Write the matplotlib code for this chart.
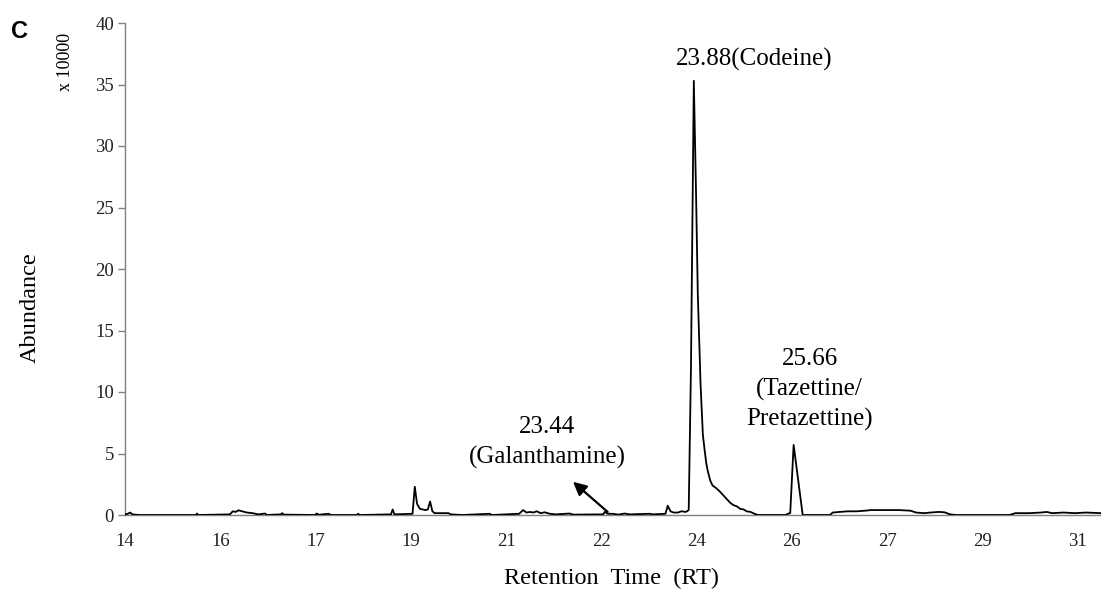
import matplotlib
matplotlib.use("Agg")
import matplotlib.pyplot as plt
import numpy as np

# ---- data (retention time in min, abundance in units of 10000) ----
rt = [13.85, 13.90, 13.94, 13.98, 14.10, 15.10, 15.12, 15.14, 15.70, 15.75, 15.80, 15.85,
      15.92, 16.00, 16.10, 16.20, 16.32, 16.35, 16.60, 16.62, 16.65, 17.20, 17.23, 17.27,
      17.44, 17.48, 17.94, 17.96, 17.99, 18.54, 18.57, 18.60, 18.92, 18.96, 19.00, 19.05,
      19.15, 19.19, 19.23, 19.27, 19.31, 19.55, 19.60, 19.80, 20.28, 20.32, 20.80, 20.87,
      20.93, 20.99, 21.05, 21.11, 21.18, 21.25, 21.34, 21.45, 21.69, 21.75, 22.28, 22.31,
      22.36, 22.45, 22.55, 22.66, 22.75, 23.10, 23.15, 23.38, 23.42, 23.47, 23.52, 23.60,
      23.66, 23.74, 23.79, 23.83, 23.88, 23.92, 23.95, 24.00, 24.04, 24.07, 24.10, 24.13,
      24.17, 24.21, 24.27, 24.34, 24.40, 24.46, 24.52, 24.58, 24.64, 24.70, 24.76, 24.81,
      24.88, 24.95, 25.01, 25.50, 25.55, 25.58, 25.64, 25.80, 26.28, 26.33, 26.45, 26.60,
      26.75, 26.90, 27.00, 27.20, 27.50, 27.70, 27.80, 27.95, 28.05, 28.20, 28.30, 28.40,
      28.50, 29.45, 29.55, 29.80, 30.00, 30.10, 30.20, 30.40, 30.60, 30.80, 31.06]
abundance = [0.05, 0.10, 0.20, 0.05, 0.0, 0.0, 0.12, 0.0, 0.05, 0.30, 0.25, 0.38,
             0.30, 0.20, 0.15, 0.05, 0.12, 0.0, 0.05, 0.15, 0.03, 0.0, 0.12, 0.02,
             0.10, 0.0, 0.0, 0.10, 0.0, 0.05, 0.45, 0.05, 0.10, 2.30, 0.90, 0.50,
             0.40, 0.45, 1.10, 0.30, 0.15, 0.15, 0.05, 0.0, 0.10, 0.0, 0.10, 0.40,
             0.20, 0.25, 0.20, 0.30, 0.15, 0.22, 0.10, 0.05, 0.12, 0.03, 0.05, 0.25,
             0.10, 0.10, 0.03, 0.12, 0.05, 0.10, 0.05, 0.10, 0.75, 0.30, 0.20, 0.20,
             0.30, 0.25, 0.40, 12.0, 35.3, 26.0, 18.0, 10.5, 6.5, 5.3, 4.2, 3.5,
             2.8, 2.4, 2.2, 1.9, 1.6, 1.3, 1.0, 0.8, 0.7, 0.5, 0.45, 0.3,
             0.25, 0.10, 0.0, 0.0, 0.12, 0.15, 5.7, 0.0, 0.0, 0.20, 0.25, 0.30,
             0.30, 0.35, 0.40, 0.40, 0.40, 0.35, 0.20, 0.15, 0.20, 0.25, 0.22, 0.05,
             0.0, 0.0, 0.15, 0.15, 0.20, 0.25, 0.15, 0.20, 0.15, 0.20, 0.15]

tick_labels = ["14", "16", "17", "19", "21", "22", "24", "26", "27", "29", "31"]
y_ticks = [0, 5, 10, 15, 20, 25, 30, 35, 40]

peak_labels = ["23.88(Codeine)", "23.44\n(Galanthamine)", "25.66\n(Tazettine/\nPretazettine)"]

SERIF = "Liberation Serif"

fig = plt.figure(figsize=(11.01, 5.92), dpi=100)
ax = fig.add_axes([125 / 1101, 1 - 515 / 592, 1 - 125 / 1101, (515 - 23) / 592])

ax.plot(rt, abundance, color="black", lw=1.3, zorder=3)

x_start, x_step = 13.85, 1.68
ax.set_xlim(x_start, 31.06)
ax.set_ylim(0, 40)
ax.set_xticks([x_start + i * x_step for i in range(len(tick_labels))])
ax.set_xticklabels(tick_labels)
ax.set_yticks(y_ticks)
ax.set_yticklabels([str(v) for v in y_ticks])

for s in ["top", "right"]:
    ax.spines[s].set_visible(False)
for s in ["left", "bottom"]:
    ax.spines[s].set_color("#808080")
    ax.spines[s].set_linewidth(1.0)

ax.tick_params(axis="x", length=0, pad=13, labelsize=13.5)
ax.tick_params(axis="y", length=5, width=1.0, color="#808080", pad=3, labelsize=13.5)
for lab in ax.get_xticklabels() + ax.get_yticklabels():
    lab.set_fontfamily(SERIF)
    lab.set_color("#222222")

# annotations
ax.text(24.94, 37.0, peak_labels[0], ha="center", va="center", fontsize=18, family=SERIF)
ax.text(21.29, 5.9, peak_labels[1], ha="center", va="center", fontsize=18, family=SERIF,
        linespacing=1.4)
ax.text(25.92, 10.2, peak_labels[2], ha="center", va="center", fontsize=18, family=SERIF,
        linespacing=1.4)
ax.annotate("", xy=(21.75, 2.7), xytext=(22.36, 0.25),
            arrowprops=dict(arrowstyle="-|>", color="black", lw=1.6, mutation_scale=20,
                            shrinkA=0, shrinkB=0))

# figure-level labels
fig.text(612 / 1101, 1 - 578 / 592, "Retention  Time  (RT)", ha="center", va="center",
         fontsize=17.5, family=SERIF)
fig.text(30 / 1101, 1 - 308 / 592, "Abundance", ha="center", va="center", rotation=90,
         fontsize=17.5, family=SERIF)
fig.text(66 / 1101, 1 - 62 / 592, "x 10000", ha="center", va="center", rotation=90,
         fontsize=13, family=SERIF)
fig.text(20 / 1101, 1 - 32 / 592, "C", ha="center", va="center", fontsize=17,
         fontweight="bold", family="Liberation Sans")

fig.savefig("out.png", dpi=100)
